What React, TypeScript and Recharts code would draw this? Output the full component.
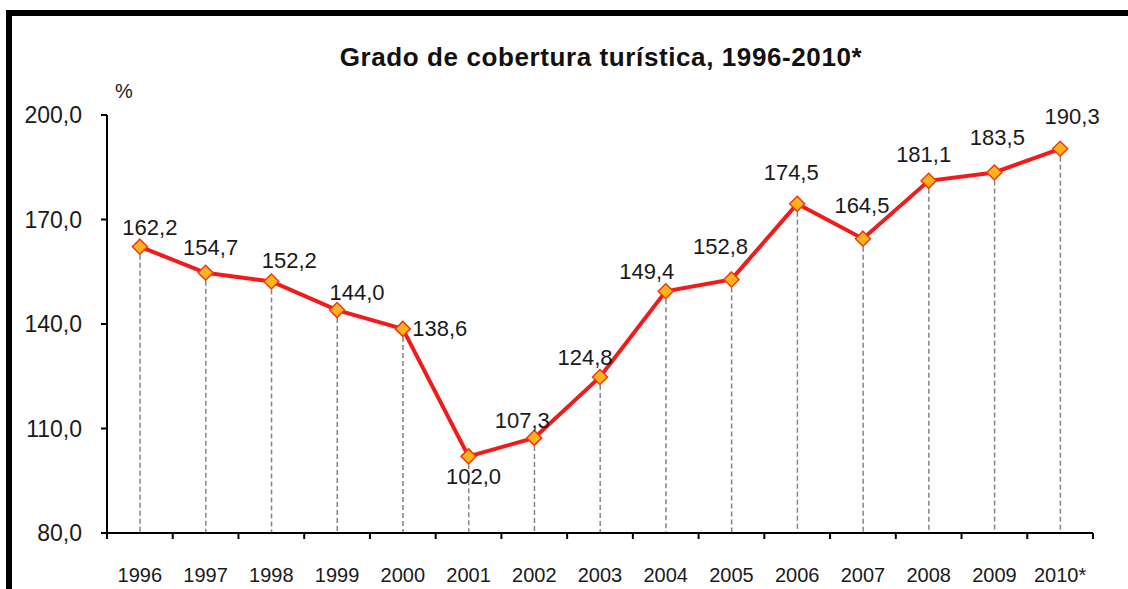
import { ComposedChart, Bar, Line, XAxis, YAxis, LabelList } from "recharts";

const years = ["1996", "1997", "1998", "1999", "2000", "2001", "2002", "2003", "2004", "2005", "2006", "2007", "2008", "2009", "2010*"];
const coverage = [162.2, 154.7, 152.2, 144.0, 138.6, 102.0, 107.3, 124.8, 149.4, 152.8, 174.5, 164.5, 181.1, 183.5, 190.3];
const yTicks = [80, 110, 140, 170, 200];

// where each value label sits relative to its marker
const labelOffsets: [number, number][] = [
  [10, -19], [5, -25], [18, -21], [20, -18], [37, 0], [5, 20], [-12, -17], [-15, -19],
  [-19, -20], [-11, -33], [-6, -31], [-1, -33], [-5, -26], [3, -35], [12, -32],
];

const data = years.map((year, i) => ({ year, value: coverage[i] }));

const fmt = (v: number) => v.toFixed(1).replace(".", ",");
const FONT = "'Liberation Sans', Arial, sans-serif";

function DropLine(props: any) {
  const { x, y, width, height } = props;
  const cx = x + width / 2;
  return (
    <line x1={cx} y1={y} x2={cx} y2={y + height} stroke="#858585" strokeWidth={1.5} strokeDasharray="5 3" />
  );
}

function Diamond(props: any) {
  const { cx, cy, index } = props;
  const r = 7.5;
  return (
    <polygon
      key={"d" + index}
      points={`${cx},${cy - r} ${cx + r},${cy} ${cx},${cy + r} ${cx - r},${cy}`}
      fill="#ffb21e"
      stroke="#ea3d12"
      strokeWidth={1.5}
    />
  );
}

function ValueLabel(props: any) {
  const { x, y, value, index } = props;
  const [dx, dy] = labelOffsets[index] || [0, -20];
  return (
    <text x={x + dx} y={y + dy} textAnchor="middle" dominantBaseline="central" fontSize={22} fill="#1a1a1a" fontFamily={FONT}>
      {fmt(value)}
    </text>
  );
}

function YearTick(props: any) {
  const { x, y, payload, index, visibleTicksCount, width } = props;
  const off = payload.offset ?? width / (2 * visibleTicksCount);
  const last = index === visibleTicksCount - 1;
  return (
    <g>
      <line x1={x - off} y1={y} x2={x - off} y2={y + 6} stroke="#000" strokeWidth={2} />
      {last && <line x1={x + off} y1={y} x2={x + off} y2={y + 6} stroke="#000" strokeWidth={2} />}
      <text x={x} y={y + 42} textAnchor="middle" dominantBaseline="central" fontSize={20} fill="#1a1a1a" fontFamily={FONT}>
        {payload.value}
      </text>
    </g>
  );
}

export default function App() {
  return (
    <div style={{ position: "absolute", left: 0, top: 0, width: 1128, height: 589, overflow: "hidden", background: "#fff" }}>
      <div style={{ position: "absolute", left: 6, top: 10, width: 1200, height: 700, border: "6px solid #000", boxSizing: "border-box" }} />
      <div
        style={{
          position: "absolute", left: 0, width: 1202, top: 42, textAlign: "center",
          fontFamily: FONT, fontWeight: "bold", fontSize: 26, letterSpacing: 0.6, color: "#111",
        }}
      >
        Grado de cobertura turística, 1996-2010*
      </div>
      <div style={{ position: "absolute", left: 115, top: 80, fontFamily: FONT, fontSize: 20, color: "#1a1a1a" }}>%</div>
      <div style={{ position: "absolute", left: 0, top: 0 }}>
        <ComposedChart width={1128} height={589} data={data} margin={{ top: 115, right: 35, left: 7, bottom: 16 }}>
          <XAxis
            dataKey="year"
            height={40}
            axisLine={{ stroke: "#000", strokeWidth: 2 }}
            tickLine={false}
            tickSize={0}
            tickMargin={0}
            interval={0}
            tick={<YearTick />}
          />
          <YAxis
            width={100}
            domain={[80, 200]}
            ticks={yTicks}
            tickFormatter={fmt}
            axisLine={{ stroke: "#000", strokeWidth: 2 }}
            tickLine={{ stroke: "#000", strokeWidth: 2 }}
            tickSize={6}
            tickMargin={19}
            tick={{ fontSize: 23, fill: "#1a1a1a", fontFamily: FONT }}
          />
          <Bar dataKey="value" shape={<DropLine />} isAnimationActive={false} />
          <Line
            dataKey="value"
            stroke="#f21b1b"
            strokeWidth={4}
            dot={Diamond}
            activeDot={false}
            isAnimationActive={false}
          >
            <LabelList dataKey="value" content={<ValueLabel />} />
          </Line>
        </ComposedChart>
      </div>
    </div>
  );
}
